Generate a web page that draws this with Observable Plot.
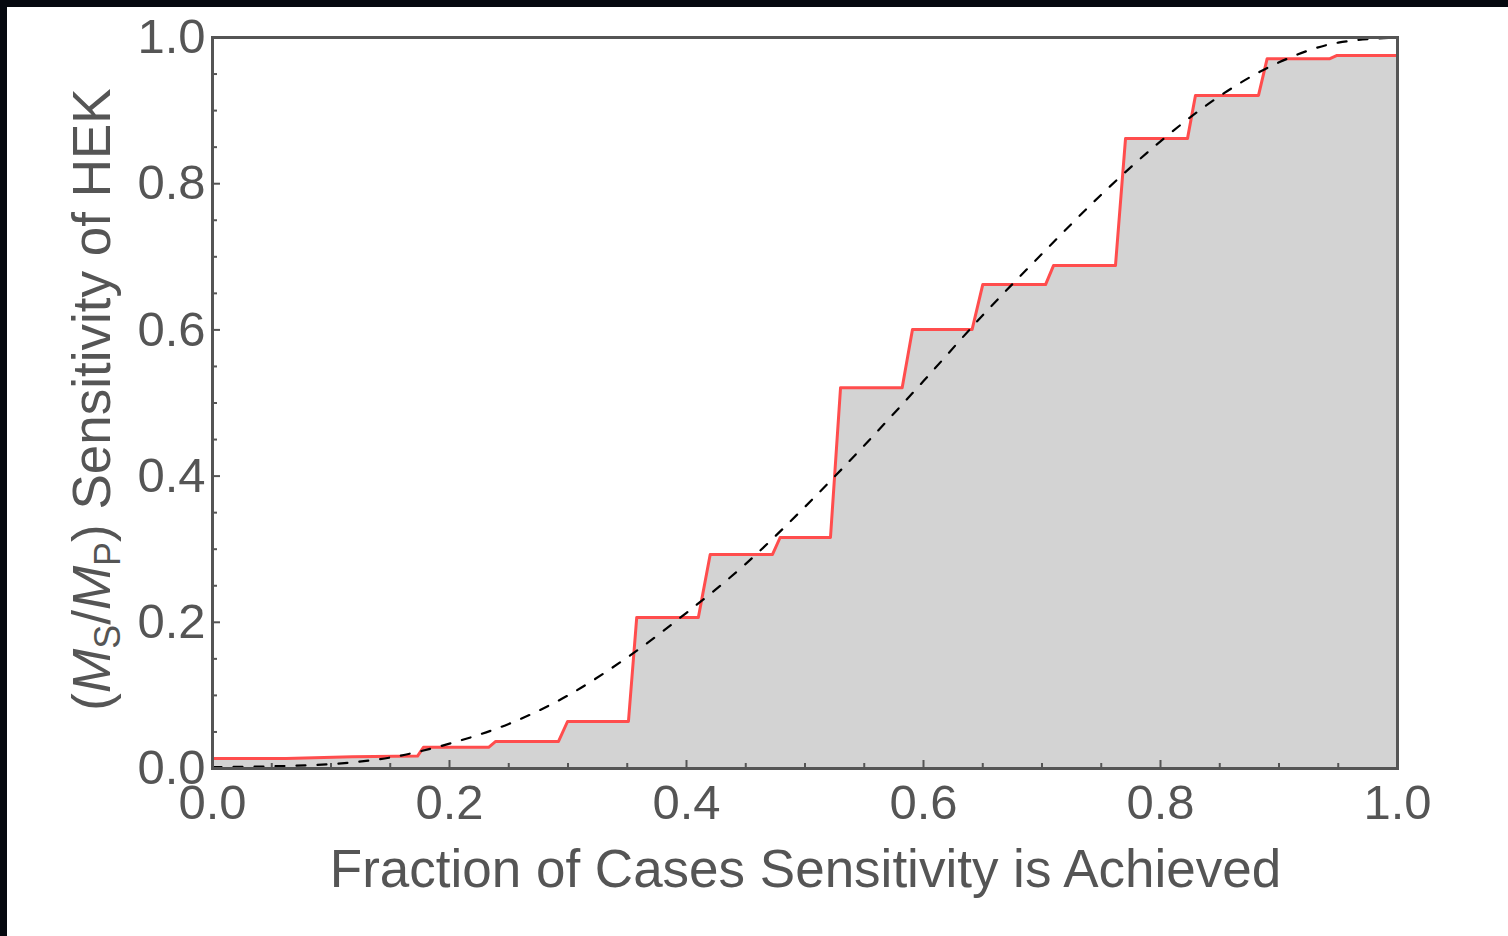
<!DOCTYPE html>
<html><head><meta charset="utf-8">
<script src="https://cdn.jsdelivr.net/npm/d3@7"></script>
<script src="https://cdn.jsdelivr.net/npm/@observablehq/plot@0.6"></script>
<style>
html,body{margin:0;padding:0;background:#05080f;width:1508px;height:936px;overflow:hidden}
#chart{position:absolute;left:7px;top:7px;width:1501px;height:929px;background:#fff}
</style></head><body><div id="chart"></div>
<script>
const stepX = [0, 0.062, 0.118, 0.173, 0.178, 0.233, 0.239, 0.292, 0.2996, 0.351, 0.358, 0.410, 0.420, 0.4726, 0.479, 0.5215, 0.530, 0.582, 0.5907, 0.641, 0.650, 0.703, 0.7097, 0.762, 0.7705, 0.8228, 0.8295, 0.8827, 0.890, 0.943, 0.949, 1.0];
const stepY = [0.0137, 0.0137, 0.016, 0.017, 0.029, 0.029, 0.037, 0.037, 0.0643, 0.0643, 0.2066, 0.2066, 0.2928, 0.2928, 0.316, 0.316, 0.521, 0.521, 0.6005, 0.6005, 0.662, 0.662, 0.688, 0.688, 0.862, 0.862, 0.9207, 0.9207, 0.971, 0.971, 0.9754, 0.9754];
// Dashed reference curve
const curveX = [0, 0.05, 0.10, 0.15, 0.20, 0.25, 0.30, 0.35, 0.40, 0.45, 0.50, 0.55, 0.60, 0.65, 0.70, 0.75, 0.80, 0.85, 0.90, 0.95, 1.0];
const curveY = [0.002, 0.003, 0.006, 0.015, 0.034, 0.061, 0.100, 0.152, 0.213, 0.280, 0.358, 0.442, 0.530, 0.620, 0.704, 0.785, 0.858, 0.920, 0.966, 0.993, 1.0];
const majorTicks = [0, 0.2, 0.4, 0.6, 0.8, 1.0];
const minorTicks = [0.05, 0.1, 0.15, 0.25, 0.3, 0.35, 0.45, 0.5, 0.55, 0.65, 0.7, 0.75, 0.85, 0.9, 0.95];
const xLabel = "Fraction of Cases Sensitivity is Achieved";
const yLabelRest = " Sensitivity of HEK";

const step = stepX.map((x, i) => ({x, y: stepY[i]}));
const curve = curveX.map((x, i) => ({x, y: curveY[i]}));
const ink = "#555";

const W = 1501, H = 929, mL = 205, mR = 111, mT = 30, mB = 168;
const svgEl = Plot.plot({
  width: W, height: H,
  marginLeft: mL, marginRight: mR, marginTop: mT, marginBottom: mB,
  style: {fontFamily: "'Liberation Sans', Arial, sans-serif", background: "#fff", overflow: "visible"},
  x: {domain: [0, 1]},
  y: {domain: [0, 1]},
  marks: [
    Plot.areaY(step, {x: "x", y: "y", fill: "#d3d3d3"}),
    Plot.line(step, {x: "x", y: "y", stroke: "#ff4d4d", strokeWidth: 3}),
    Plot.line(curve, {x: "x", y: "y", stroke: "#000", strokeWidth: 2.2, strokeDasharray: "9,12", curve: "monotone-x"}),
    Plot.frame({stroke: ink, strokeWidth: 3}),
    Plot.axisX(majorTicks, {tickSize: -8, tickPadding: 24, tickFormat: d3.format(".1f"), fontSize: 49, color: ink, strokeWidth: 2, label: null}),
    Plot.axisX(minorTicks, {tickSize: -5, fill: "none", stroke: ink, strokeWidth: 2, label: null}),
    Plot.axisY(majorTicks, {tickSize: -8, tickPadding: 15, tickFormat: d3.format(".1f"), fontSize: 49, color: ink, strokeWidth: 2, label: null}),
    Plot.axisY(minorTicks, {tickSize: -5, fill: "none", stroke: ink, strokeWidth: 2, label: null})
  ]
});
document.getElementById("chart").appendChild(svgEl);

const svg = d3.select(svgEl);
const font = "'Liberation Sans', Arial, sans-serif";
svg.append("text")
  .attr("x", mL + (W - mL - mR) / 2 + 1)
  .attr("y", 880)
  .attr("text-anchor", "middle")
  .attr("font-family", font)
  .attr("font-size", 53)
  .attr("fill", ink)
  .text(xLabel);

const yl = svg.append("text")
  .attr("transform", `translate(103,${mT + (H - mT - mB) / 2 - 3}) rotate(-90)`)
  .attr("text-anchor", "middle")
  .attr("font-family", font)
  .attr("font-size", 53)
  .attr("fill", ink)
  .style("white-space", "pre");
yl.append("tspan").text("(");
yl.append("tspan").attr("font-style", "italic").text("M");
yl.append("tspan").attr("font-size", 36).attr("dy", 10).text("S");
yl.append("tspan").attr("dy", -10).text("/");
yl.append("tspan").attr("font-style", "italic").text("M");
yl.append("tspan").attr("font-size", 36).attr("dy", 10).text("P");
yl.append("tspan").attr("dy", -10).text(")");
yl.append("tspan").text(yLabelRest);
</script></body></html>
